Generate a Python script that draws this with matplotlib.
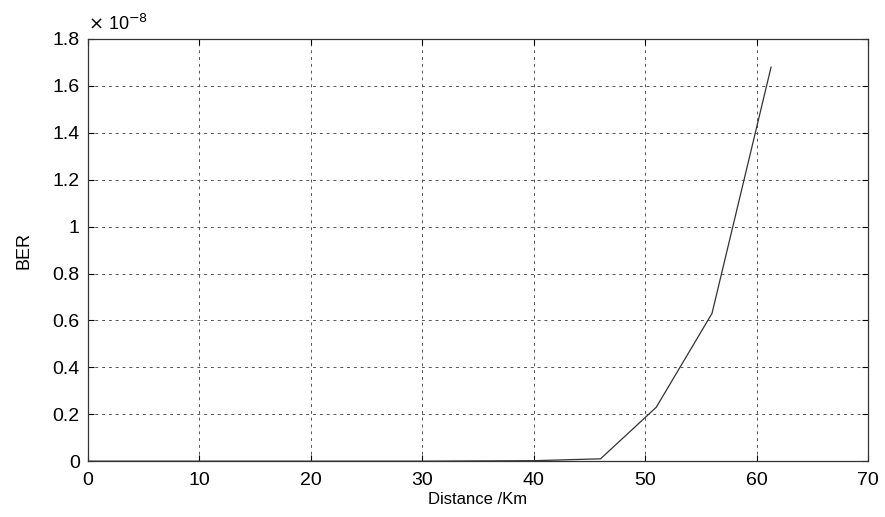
# BER vs distance, MATLAB-style plot
import matplotlib
matplotlib.use('Agg')
import matplotlib.pyplot as plt
from matplotlib.ticker import FuncFormatter

plt.rcParams['font.family'] = ['Liberation Sans', 'DejaVu Sans']

# Data
distance_km = [0, 10, 20, 30, 40, 46, 51, 56, 61.3]
ber = [0.0, 0.0, 0.0, 0.0, 0.002e-8, 0.01e-8, 0.23e-8, 0.63e-8, 1.68e-8]

x_ticks = [0, 10, 20, 30, 40, 50, 60, 70]
y_ticks = [0, 0.2e-8, 0.4e-8, 0.6e-8, 0.8e-8, 1.0e-8, 1.2e-8, 1.4e-8, 1.6e-8, 1.8e-8]

fig = plt.figure(figsize=(8.85, 5.17), dpi=100)
ax = fig.add_axes([0.0994, 0.108, 0.8814, 0.8166])

ax.plot(distance_km, ber, color='#333333', linewidth=0.9)

ax.set_xlim(0, 70)
ax.set_ylim(0, 1.8e-8)
ax.set_xticks(x_ticks)
ax.set_yticks(y_ticks)
ax.yaxis.set_major_formatter(FuncFormatter(lambda v, p: f'{v * 1e8:g}'))

ax.grid(True, color='#555555', linestyle=(0, (3, 4)), linewidth=0.7)
ax.tick_params(direction='in', top=True, right=True, labelsize=14, length=4)
ax.tick_params(axis='x', pad=8)
ax.tick_params(axis='y', pad=6)
for s in ax.spines.values():
    s.set_linewidth(0.9)
    s.set_color('#333333')

ax.text(0.0, 1.012, r'$\times$ 10$^{-8}$', transform=ax.transAxes, fontsize=13,
        ha='left', va='bottom')

ax.set_xlabel('Distance /Km', fontsize=12, labelpad=2)
ax.set_ylabel('BER', fontsize=13, labelpad=14)

fig.savefig('out.png', dpi=100)
